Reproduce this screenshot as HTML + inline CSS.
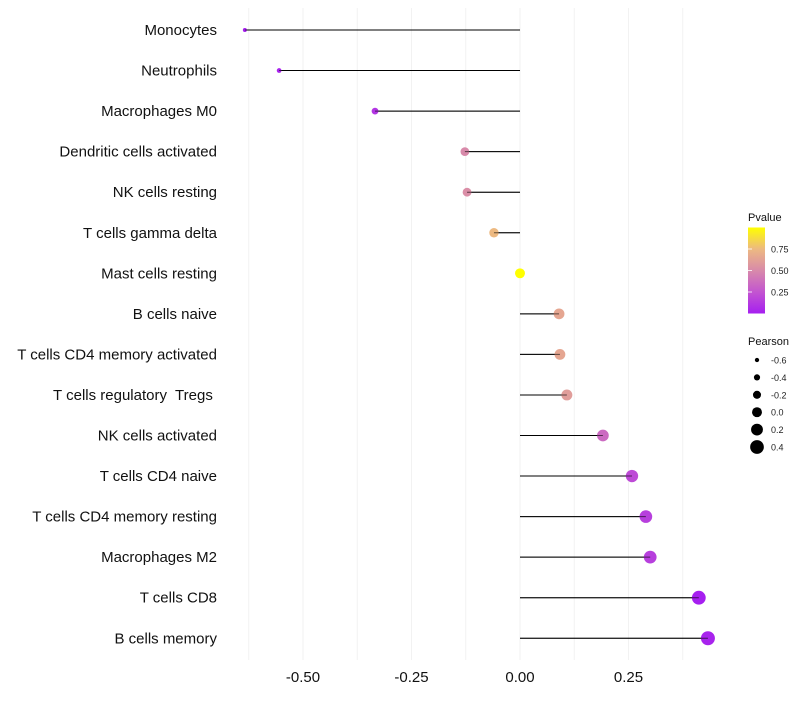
<!DOCTYPE html>
<html><head><meta charset="utf-8"><style>
body{margin:0;background:#fff;}
svg text{font-family:"Liberation Sans",sans-serif;white-space:pre;}
</style></head><body>
<svg id="chart" width="800" height="700" xmlns="http://www.w3.org/2000/svg"></svg>
<script>
const categories=["Monocytes","Neutrophils","Macrophages M0","Dendritic cells activated","NK cells resting","T cells gamma delta","Mast cells resting","B cells naive","T cells CD4 memory activated","T cells regulatory  Tregs ","NK cells activated","T cells CD4 naive","T cells CD4 memory resting","Macrophages M2","T cells CD8","B cells memory"];
const pearson=[-0.634,-0.555,-0.334,-0.127,-0.122,-0.060,0.0,0.090,0.092,0.108,0.191,0.258,0.290,0.300,0.412,0.433];
const pvalue=[0.0,0.02,0.1,0.5,0.52,0.75,1.0,0.65,0.65,0.6,0.35,0.2,0.15,0.15,0.0,0.02];
const xTicks=[-0.5,-0.25,0,0.25];
const xTickLabels=["-0.50","-0.25","0.00","0.25"];
const pTicks=[0.25,0.5,0.75];
const pTickLabels=["0.25","0.50","0.75"];
const sizeLegend=[-0.6,-0.4,-0.2,0.0,0.2,0.4];
const sizeLegendLabels=["-0.6","-0.4","-0.2","0.0","0.2","0.4"];

const NS="http://www.w3.org/2000/svg";
const svg=document.getElementById('chart');
const x=v=>520+v*434;
const y=i=>30+i*40.55;
const r=v=>2+(v+0.634)/(0.433+0.634)*5;
const stops=[[166,31,240],[195,85,208],[216,138,170],[237,185,129],[255,255,0]];
function col(p){p=Math.max(0,Math.min(1,p));const t=p*4,i=Math.min(3,Math.floor(t)),f=t-i;
 const c=stops[i].map((a,k)=>Math.round(a+(stops[i+1][k]-a)*f));return `rgb(${c})`;}
function el(tag,attrs,txt){const e=document.createElementNS(NS,tag);for(const k in attrs)e.setAttribute(k,attrs[k]);if(txt!==undefined)e.textContent=txt;svg.appendChild(e);return e;}

for(let v=-0.625;v<=0.4;v+=0.125){
 const g=el('line',{x1:x(v),x2:x(v),y1:8,y2:660,stroke:'#f2f2f2','stroke-width':1});
 
 
}
xTicks.forEach((v,i)=>{
 const t=el('text',{x:x(v),y:682,'text-anchor':'middle','font-size':15,fill:'#111'},xTickLabels[i]);
 
 
});
categories.forEach((c,i)=>{
 const t=el('text',{x:217,y:y(i)+5,'text-anchor':'end','font-size':15,fill:'#111','xml:space':'preserve'},c);
 
 
 const l=el('line',{x1:x(0),x2:x(pearson[i]),y1:y(i),y2:y(i),stroke:'#000','stroke-width':1});
 
 
 const p=el('circle',{cx:x(pearson[i]),cy:y(i),r:r(pearson[i]),fill:col(pvalue[i])});
 
 
 const l2=el('line',{x1:x(0),x2:x(pearson[i]),y1:y(i),y2:y(i),stroke:'#000','stroke-width':1,'stroke-opacity':0.6});
 
 
});
const t1=el('text',{x:748,y:221,'font-size':11,fill:'#111'},'Pvalue');


const defs=el('defs',{});
const lg=document.createElementNS(NS,'linearGradient');lg.setAttribute('id','pg');lg.setAttribute('x1',0);lg.setAttribute('y1',1);lg.setAttribute('x2',0);lg.setAttribute('y2',0);
stops.forEach((s,i)=>{const st=document.createElementNS(NS,'stop');st.setAttribute('offset',i/4);st.setAttribute('stop-color',`rgb(${s})`);lg.appendChild(st);});
defs.appendChild(lg);
const py=p=>313.5-p*86;
const cb=el('rect',{x:748,y:py(1),width:17,height:86,fill:'url(#pg)'});


pTicks.forEach((p,i)=>{
 const tk=el('line',{x1:748,x2:752,y1:py(p),y2:py(p),stroke:'#fff','stroke-width':0.8});
 
 
 const tl=el('text',{x:771,y:py(p)+3.5,'font-size':9,fill:'#222'},pTickLabels[i]);
 
 
});
const t2=el('text',{x:748,y:345,'font-size':11,fill:'#111'},'Pearson');


sizeLegend.forEach((v,i)=>{
 const yy=360+i*17.4;
 const c=el('circle',{cx:757,cy:yy,r:r(v),fill:'#000'});
 
 
 const tl=el('text',{x:771,y:yy+3.5,'font-size':9,fill:'#222'},sizeLegendLabels[i]);
 
 
});
</script>
</body></html>
